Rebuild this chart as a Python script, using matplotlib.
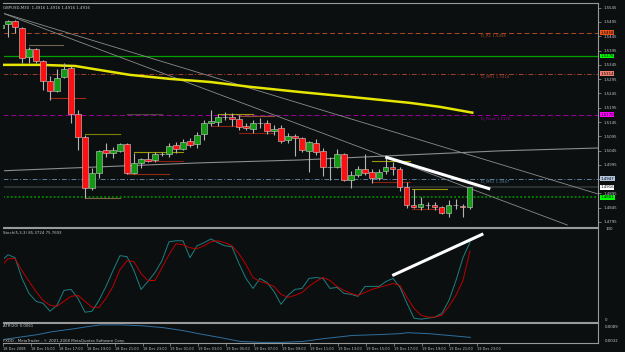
import numpy as np
import matplotlib
matplotlib.use("Agg")
import matplotlib.pyplot as plt
import matplotlib.transforms as mtransforms

# GBPUSD M30 candles, 18 Dec 13:00 -> 19 Dec 22:30
opens = [1.5474, 1.5488, 1.5499, 1.5474, 1.5372, 1.5400, 1.5358, 1.5288, 1.5253, 1.5303,
         1.5334, 1.5173, 1.5093, 1.4914, 1.4967, 1.5047, 1.5036, 1.5044, 1.5068, 1.4967,
         1.5002, 1.5016, 1.5012, 1.5033, 1.5033, 1.5065, 1.5051, 1.5079, 1.5068, 1.5103,
         1.5141, 1.5145, 1.5163, 1.5163, 1.5155, 1.5131, 1.5121, 1.5141, 1.5141, 1.5114,
         1.5124, 1.5082, 1.5096, 1.5089, 1.5044, 1.5072, 1.5044, 1.4988, 1.4988, 1.5033,
         1.4942, 1.4960, 1.4981, 1.4970, 1.4949, 1.4974, 1.4988, 1.4981, 1.4917, 1.4855,
         1.4848, 1.4855, 1.4855, 1.4848, 1.4827, 1.4855, 1.4851, 1.4848]
closes = [1.5485, 1.5499, 1.5478, 1.5369, 1.5400, 1.5358, 1.5288, 1.5253, 1.5299, 1.5331,
          1.5173, 1.5093, 1.4914, 1.4967, 1.5044, 1.5036, 1.5047, 1.5068, 1.4967, 1.5002,
          1.5016, 1.5009, 1.5033, 1.5033, 1.5061, 1.5051, 1.5075, 1.5065, 1.5100, 1.5141,
          1.5148, 1.5163, 1.5163, 1.5155, 1.5127, 1.5124, 1.5141, 1.5141, 1.5114, 1.5121,
          1.5079, 1.5096, 1.5089, 1.5047, 1.5075, 1.5040, 1.4988, 1.4988, 1.5033, 1.4942,
          1.4960, 1.4981, 1.4967, 1.4949, 1.4970, 1.4988, 1.4981, 1.4917, 1.4855, 1.4848,
          1.4858, 1.4855, 1.4848, 1.4827, 1.4855, 1.4855, 1.4848, 1.4916]
highs = [1.5492, 1.5502, 1.5502, 1.5477, 1.5407, 1.5404, 1.5362, 1.5306, 1.5330, 1.5352,
         1.5341, 1.5187, 1.5100, 1.4984, 1.5047, 1.5072, 1.5058, 1.5072, 1.5072, 1.5036,
         1.5019, 1.5040, 1.5040, 1.5040, 1.5072, 1.5075, 1.5086, 1.5089, 1.5110, 1.5152,
         1.5187, 1.5173, 1.5180, 1.5177, 1.5170, 1.5141, 1.5152, 1.5159, 1.5152, 1.5135,
         1.5135, 1.5107, 1.5103, 1.5093, 1.5079, 1.5086, 1.5054, 1.5023, 1.5051, 1.5036,
         1.4974, 1.4991, 1.5033, 1.4981, 1.4981, 1.5023, 1.5005, 1.4988, 1.4935, 1.4911,
         1.4883, 1.4865, 1.4865, 1.4851, 1.4872, 1.4875, 1.4858, 1.4918]
lows = [1.5467, 1.5442, 1.5457, 1.5352, 1.5352, 1.5352, 1.5257, 1.5222, 1.5250, 1.5299,
        1.5141, 1.5047, 1.4879, 1.4907, 1.4949, 1.5022, 1.5019, 1.5040, 1.4963, 1.4963,
        1.4984, 1.5005, 1.5005, 1.5026, 1.5022, 1.5036, 1.5047, 1.5058, 1.5054, 1.5082,
        1.5131, 1.5131, 1.5152, 1.5131, 1.5117, 1.5117, 1.5107, 1.5124, 1.5103, 1.5100,
        1.5072, 1.5072, 1.5026, 1.5040, 1.4970, 1.5030, 1.4956, 1.4942, 1.4984, 1.4940,
        1.4914, 1.4953, 1.4960, 1.4932, 1.4942, 1.4963, 1.4960, 1.4904, 1.4844, 1.4844,
        1.4837, 1.4841, 1.4837, 1.4823, 1.4813, 1.4841, 1.4813, 1.4841]

# stochastic main / signal
stoch_main = [64.1, 71.7, 68.5, 45.7, 29.3, 20.7, 18.5, 9.8, 16.3, 32.6,
              33.7, 23.9, 8.7, 9.8, 21.7, 37.0, 54.3, 70.7, 69.6, 54.3,
              33.7, 42.4, 52.2, 65.2, 85.9, 87.0, 87.0, 68.5, 81.5, 84.8,
              89.1, 84.8, 81.5, 80.4, 62.0, 45.7, 34.8, 45.7, 41.3, 31.5,
              17.4, 27.2, 33.7, 34.8, 45.7, 46.7, 45.7, 34.8, 35.9, 29.3,
              28.3, 26.1, 37.0, 37.0, 37.0, 42.4, 45.7, 35.9, 18.5, 2.2,
              1.1, 2.2, 3.3, 7.6, 21.7, 43.5, 68.5, 85.4]
stoch_signal = [58.7, 67.4, 67.4, 54.3, 42.4, 31.5, 21.7, 16.3, 15.2, 20.7,
                26.1, 27.2, 20.7, 14.1, 14.1, 23.9, 37.0, 55.4, 65.2, 64.1,
                51.1, 43.5, 43.5, 57.6, 71.7, 83.7, 82.6, 79.3, 78.3, 81.5,
                85.9, 87.0, 84.8, 81.5, 72.8, 60.9, 46.7, 42.4, 40.2, 37.0,
                28.3, 25.0, 27.2, 30.4, 37.0, 42.4, 46.7, 43.5, 37.0, 32.6,
                29.3, 27.2, 30.4, 33.7, 35.9, 38.0, 40.2, 38.0, 25.0, 13.0,
                5.4, 3.3, 3.3, 5.4, 15.2, 27.2, 43.5, 75.8]

# ATR(20) read at a few bars
atr_idx = [0, 5, 7, 10, 12, 14, 17, 20, 23, 26, 28, 31, 34, 37, 40, 43, 46, 50, 54, 57, 58, 61, 64, 67]
atr_val = [0.0039, 0.0055, 0.0064, 0.0073, 0.0080, 0.0086, 0.0086, 0.0083, 0.0077, 0.0067,
           0.0058, 0.0046, 0.0033, 0.0030, 0.0030, 0.0033, 0.0042, 0.0052, 0.0055, 0.0058,
           0.0061, 0.0058, 0.0052, 0.0046]

# yellow moving average
ma_idx = [0, 5.6, 10.6, 14.1, 18.4, 24.1, 29.9, 35.6, 42.7, 49.9, 58.4, 62.7, 67.5]
ma_val = [1.5345, 1.5345, 1.5341, 1.5327, 1.5310, 1.5296, 1.5285, 1.5268, 1.5250, 1.5233,
          1.5212, 1.5198, 1.5177]

# grey slow line
slow_idx = [0, 14.1, 28.4, 42.7, 58.4, 71.3, 85.3]
slow_val = [1.4974, 1.4988, 1.5002, 1.5012, 1.5030, 1.5044, 1.5054]

# trend lines (two points each)
trend_x = [(0.14, 85.3), (0.14, 80.9)]
trend_y = [(1.5527, 1.4893), (1.5527, 1.47845)]
white_x = (54.9, 69.9)
white_y = (1.50225, 1.49105)
white_st_x = (55.9, 68.9)
white_st_y = (48.9, 94.6)

# session range lines: start, end, price, colour
seg_start = [4, 7, 12, 12, 18, 19, 21, 18, 31, 34, 30, 34, 53, 53, 58.7, 58.7]
seg_end = [8.9, 12, 17, 17, 23, 26, 26, 24, 36, 39, 34, 39, 58.4, 58.4, 63.7, 62.7]
seg_price = [1.54145, 1.5229, 1.51045, 1.4879, 1.51715, 1.5040, 1.50085, 1.4963, 1.5173,
             1.5166, 1.5131, 1.51065, 1.50085, 1.4935, 1.49105, 1.48405]
seg_color = ['#6e6450', '#a02818', '#808000', '#806040', '#4a4436', '#9a9a00', '#8b2010',
             '#8b2a10', '#9a9a00', '#8a5030', '#8b2010', '#8b2010', '#9a9a00', '#8b2010',
             '#9a9a00', '#8b2010']

# pivot levels
piv_names = ['D_R1', 'D_MR1', 'D_Pivot', 'D_MS1']
piv_vals = [1.5458, 1.5314, 1.5170, 1.4947]
piv_colors = ['#b04a20', '#a04030', '#a000a0', '#5a7fa0']
piv_styles = [(0, (5, 3)), (0, (5, 2, 1, 2)), (0, (5, 3)), (0, (5, 2, 1, 2))]
piv_box = ['#e8541a', '#f08070', '#ff00ff', '#b0c4de']

main_ticks = [1.5545 - 0.005 * k for k in range(16)]
date_labels = ["18 Dec 2008", "18 Dec 15:00", "18 Dec 17:00", "18 Dec 19:00", "18 Dec 21:00",
               "18 Dec 23:00", "19 Dec 01:00", "19 Dec 03:00", "19 Dec 05:00", "19 Dec 07:00",
               "19 Dec 09:00", "19 Dec 11:00", "19 Dec 13:00", "19 Dec 15:00", "19 Dec 17:00",
               "19 Dec 19:00", "19 Dec 21:00", "19 Dec 23:00"]

bg = '#0b0f10'
txt = '#c8c8c8'
fs = 2.8

fig = plt.figure(figsize=(6.25, 3.52), dpi=100, facecolor=bg)
ax = fig.add_axes([3/625, 1-227/352, 595/625, 224/352])
ax_st = fig.add_axes([3/625, 1-322/352, 595/625, 94/352])
ax_atr = fig.add_axes([3/625, 1-343/352, 595/625, 20/352])

for a in (ax, ax_st, ax_atr):
    a.set_facecolor(bg)
    a.set_xlim(0.286, 85.29)
    for s in a.spines.values():
        s.set_color('#9a9a9a')
        s.set_linewidth(0.8)
    a.spines['left'].set_color(bg)
    a.yaxis.tick_right()
    a.tick_params(axis='y', colors='#9a9a9a', labelcolor=txt, labelsize=fs,
                  length=2, width=0.5, pad=2)
    a.set_xticks([])

boxes = [(piv_vals[0], piv_box[0]), (1.5376, '#00ff00'), (piv_vals[1], piv_box[1]),
         (piv_vals[2], piv_box[2]), (piv_vals[3], piv_box[3]), (1.4916, '#ffffff'),
         (1.4881, '#00ff00')]

# main chart
ax.set_ylim(1.47775, 1.55615)
ax.set_yticks(main_ticks)
# labels hidden under a price box are left blank, as in the terminal
ax.set_yticklabels(['' if min(abs(v - b[0]) for b in boxes) < 0.0008 else '%.4f' % v
                    for v in main_ticks])

for n, v, c, ls in zip(piv_names, piv_vals, piv_colors, piv_styles):
    ax.axhline(v, color=c, lw=0.7, ls=ls, zorder=1)
    ax.text(68.6, v - 0.0004, '%s %.4f' % (n, v), color=c, fontsize=fs, va='top', zorder=2)
ax.axhline(1.5376, color='#00a000', lw=0.9, zorder=1)
ax.axhline(1.4881, color='#007a00', lw=1.4, ls=(0, (1, 1)), zorder=1)
ax.axhline(1.4916, color='#2a3030', lw=1.4, zorder=1)

ax.plot(slow_idx, slow_val, color='#8c8c8c', lw=0.8, zorder=2)
for (x0, x1), (y0, y1) in zip(trend_x, trend_y):
    ax.plot([x0, x1], [y0, y1], color='#8c8c8c', lw=0.6, zorder=2)
for s0, s1, p, c in zip(seg_start, seg_end, seg_price, seg_color):
    ax.plot([s0, s1], [p, p], color=c, lw=0.8, zorder=2)
ax.plot(ma_idx, ma_val, color='#e6e600', lw=1.8, zorder=3, solid_capstyle='butt')

idx = np.arange(len(opens))
o = np.array(opens)
c = np.array(closes)
ax.vlines(idx, lows, highs, color='#b4b4b4', lw=0.8, zorder=4)
body_col = np.where(c > o, '#129a12', '#ff1010')
ax.bar(idx, np.abs(c - o), bottom=np.minimum(o, c), width=0.72, color=body_col,
       edgecolor='#d0d0d0', linewidth=0.4, zorder=5)
ax.plot(white_x, white_y, color='white', lw=2.2, zorder=6, solid_capstyle='butt')

trans = mtransforms.blended_transform_factory(ax.transAxes, ax.transData)
for v, bc in boxes:
    ax.text(1.004, v, '%.4f' % v, transform=trans, fontsize=fs, color='black',
            ha='left', va='center', clip_on=False, zorder=10,
            bbox=dict(boxstyle='square,pad=0.12', fc=bc, ec='none'))

ax.text(0.0, 0.985, 'GBPUSD,M30  1.4916 1.4916 1.4916 1.4916', transform=ax.transAxes,
        color=txt, fontsize=fs, va='top', ha='left')

# stochastic
ax_st.set_ylim(-2, 101)
ax_st.set_yticks([])
ax_st.plot(idx, stoch_main, color='#1f7f80', lw=0.7)
ax_st.plot(idx, stoch_signal, color='#c00000', lw=0.7)
ax_st.plot(white_st_x, white_st_y, color='white', lw=2.2, solid_capstyle='butt')
ax_st.text(0.0, 0.97, 'Stoch(5,3,3) 85.3724 75.7693', transform=ax_st.transAxes,
           color=txt, fontsize=fs, va='top')
st_trans = mtransforms.blended_transform_factory(ax_st.transAxes, ax_st.transData)
ax_st.text(1.012, 100, '100', transform=st_trans, color=txt, fontsize=fs, va='center',
           clip_on=False)
ax_st.text(1.012, 0, '0', transform=st_trans, color=txt, fontsize=fs, va='center',
           clip_on=False)

# ATR
ax_atr.set_ylim(0.0028, 0.0092)
ax_atr.set_yticks([])
ax_atr.plot(atr_idx, atr_val, color='#2f6f9f', lw=0.7)
ax_atr.text(0.0, 0.85, 'ATR(20) 0.0061', transform=ax_atr.transAxes, color=txt,
            fontsize=fs, va='center')
ax_atr.text(0.0, 0.12, 'FXDD - MetaTrader - \u00a9 2001-2008 MetaQuotes Software Corp.',
            transform=ax_atr.transAxes, color=txt, fontsize=fs, va='center')
ax_atr.text(1.012, 0.78, '0.0089', transform=ax_atr.transAxes, color=txt, fontsize=fs,
            va='center', clip_on=False)
ax_atr.text(1.012, 0.08, '0.0032', transform=ax_atr.transAxes, color=txt, fontsize=fs,
            va='center', clip_on=False)

tick_pos = np.arange(0, 4 * len(date_labels), 4)
ax_atr.set_xticks(tick_pos)
ax_atr.set_xticklabels(date_labels)
ax_atr.tick_params(axis='x', colors='#9a9a9a', labelcolor=txt, labelsize=2.5,
                   length=2, width=0.5, pad=1, direction='out')
for lab in ax_atr.get_xticklabels():
    lab.set_horizontalalignment('left')

fig.savefig('out.png', dpi=100, facecolor=bg)
